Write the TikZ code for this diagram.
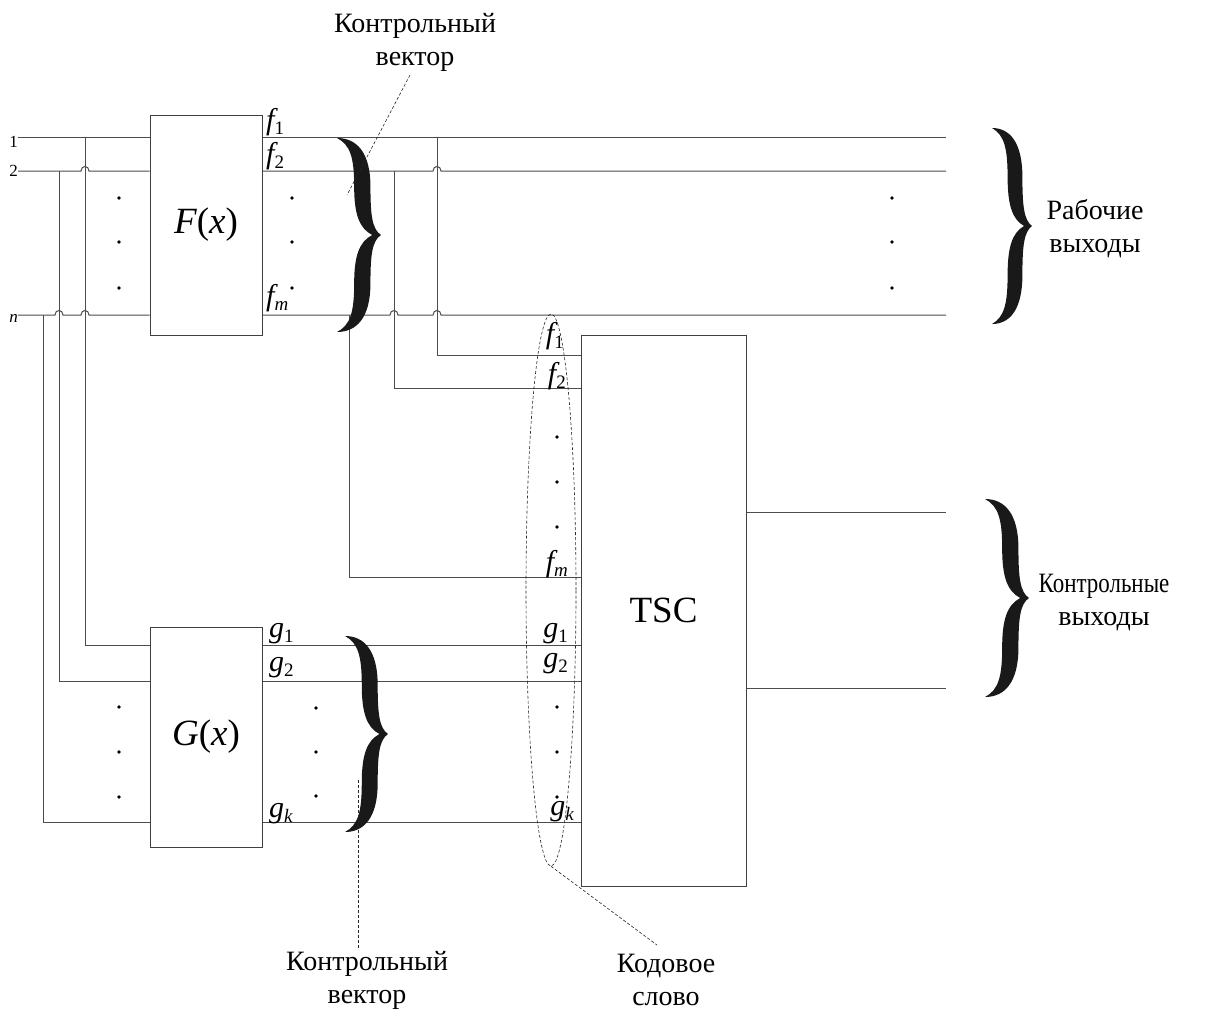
\documentclass[tikz,border=0pt]{standalone}
\usepackage{fontspec}
\setmainfont{Liberation Serif}
\usetikzlibrary{shapes.geometric}
\newcommand{\sbs}[1]{\raisebox{-5pt}{\fontsize{19}{19}\selectfont\upshape #1}}
\tikzset{
  mybrace/.pic={
    \fill[black!90] (0,-1) .. controls (0.45,-1.0) and (0.76,-0.85) .. (0.76,-0.5)
      .. controls (0.76,-0.2) and (0.8,-0.06) .. (1,0)
      .. controls (0.8,0.06) and (0.76,0.2) .. (0.76,0.5)
      .. controls (0.76,0.85) and (0.45,1.0) .. (0,1)
      .. controls (0.3,0.93) and (0.39,0.8) .. (0.39,0.5)
      .. controls (0.39,0.22) and (0.5,0.07) .. (0.8,0)
      .. controls (0.5,-0.07) and (0.39,-0.22) .. (0.39,-0.5)
      .. controls (0.39,-0.8) and (0.3,-0.93) .. (0,-1) -- cycle;
  }
}
\begin{document}
\begin{tikzpicture}[x=1pt,y=-1pt,
  wire/.style={draw=black!70, line width=1pt},
  box/.style={draw=black!75, line width=1pt, inner sep=0pt},
  leader/.style={draw=black!85, line width=0.6pt, dash pattern=on 3pt off 2pt},
  lbl/.style={font=\fontsize{28}{33}\selectfont, align=center, inner sep=0pt},
  sig/.style={font=\fontsize{30}{30}\selectfont, inner sep=0pt},
  inlbl/.style={font=\fontsize{17}{17}\selectfont, inner sep=0pt, anchor=east}]
\useasboundingbox (0,0) rectangle (1206,1012);

% boxes
\node[box, minimum width=112pt, minimum height=220pt, font=\fontsize{37}{37}\selectfont] (F) at (206,225) {\itshape F\/\upshape(\itshape x\/\upshape)};
\node[box, minimum width=112pt, minimum height=220pt, font=\fontsize{37}{37}\selectfont] (G) at (206,737) {\itshape G\/\upshape(\itshape x\/\upshape)};
\node[box, minimum width=165pt, minimum height=551pt, font=\fontsize{37}{37}\selectfont] (T) at (663.5,610.5) {TSC};

% level coordinates
\coordinate (lf1) at (0,137); \coordinate (lf2) at (0,171); \coordinate (lfm) at (0,315);
\coordinate (lg1) at (0,645); \coordinate (lg2) at (0,681); \coordinate (lgk) at (0,822);
\coordinate (lt1) at (0,355); \coordinate (lt2) at (0,388); \coordinate (ltm) at (0,577);
\coordinate (lo1) at (0,512); \coordinate (lo2) at (0,688);
% input starts
\coordinate (i1) at (18,137); \coordinate (i2) at (18,171); \coordinate (in) at (18,315);
\coordinate (j1) at (85,137); \coordinate (j2) at (59,171); \coordinate (jn) at (43,315);
\coordinate (k1) at (437,137); \coordinate (k2) at (394,171); \coordinate (km) at (349,315);
\coordinate (r1) at (946,137); \coordinate (r2) at (946,171); \coordinate (rm) at (946,315);
\coordinate (ro1) at (946,512); \coordinate (ro2) at (946,688);

% input labels
\node[inlbl] (n1) at (18,142) {1};
\node[inlbl] (n2) at (18,171) {2};
\node[inlbl] (nn) at (18,318) {\itshape n};

% input wires with hops
\draw[wire] (i1) -- (F.west |- i1);
\draw[wire] (i2) -- (81,171) .. controls (81,165) and (89,165) .. (89,171) -- (F.west |- i2);
\draw[wire] (in) -- (55,315) .. controls (55,309) and (63,309) .. (63,315) -- (81,315) .. controls (81,309) and (89,309) .. (89,315) -- (F.west |- in);

% verticals to G
\draw[wire] (j1) |- (G.west |- lg1);
\draw[wire] (j2) |- (G.west |- lg2);
\draw[wire] (jn) |- (G.west |- lgk);

% F outputs
\draw[wire] (F.east |- lf1) -- (r1);
\draw[wire] (F.east |- lf2) -- (433,171) .. controls (433,165) and (441,165) .. (441,171) -- (r2);
\draw[wire] (F.east |- lfm) -- (390,315) .. controls (390,309) and (398,309) .. (398,315) -- (433,315) .. controls (433,309) and (441,309) .. (441,315) -- (rm);

% verticals to TSC
\draw[wire] (k1) |- (T.west |- lt1);
\draw[wire] (k2) |- (T.west |- lt2);
\draw[wire] (km) |- (T.west |- ltm);

% G outputs
\draw[wire] (G.east |- lg1) -- (T.west |- lg1);
\draw[wire] (G.east |- lg2) -- (T.west |- lg2);
\draw[wire] (G.east |- lgk) -- (T.west |- lgk);

% TSC outputs
\draw[wire] (T.east |- lo1) -- (ro1);
\draw[wire] (T.east |- lo2) -- (ro2);

% dots
\foreach \x/\y in {119/198,119/242,119/288,292/198,292/242,292/288,892/198,892/242,892/288,
  119/707,119/752,119/797,316/708,316/752,316/796,
  557/437,557/482,557/527,557/707,557/752,557/797}
  \fill[black] (\x,\y) circle (1.8pt);

% signal labels
\node[sig, anchor=base west] (lf1t) at (266,129) {\itshape f\sbs{1}};
\node[sig, anchor=base west] (lf2t) at (266,163) {\itshape f\sbs{2}};
\node[sig, anchor=base west] (lfmt) at (266,305) {\itshape f\sbs{\itshape m}};
\node[sig, anchor=base west] (lg1t) at (269,637) {\itshape g\sbs{1}};
\node[sig, anchor=base west] (lg2t) at (269,671) {\itshape g\sbs{2}};
\node[sig, anchor=base west] (lgkt) at (269,817) {\itshape g\sbs{\itshape k}};

\node[sig, anchor=base east] (tf1) at (564,343) {\itshape f\sbs{1}};
\node[sig, anchor=base east] (tf2) at (566,383) {\itshape f\sbs{2}};
\node[sig, anchor=base east] (tfm) at (568,571) {\itshape f\sbs{\itshape m}};
\node[sig, anchor=base east] (tg1) at (568,637) {\itshape g\sbs{1}};
\node[sig, anchor=base east] (tg2) at (568,667) {\itshape g\sbs{2}};
\node[sig, anchor=base east] (tgk) at (574,815) {\itshape g\sbs{\itshape k}};

% braces
\pic[xscale=44, yscale=97] at (337,235) {mybrace};
\pic[xscale=43, yscale=98] at (345,734) {mybrace};
\pic[xscale=40, yscale=98] at (992,226) {mybrace};
\pic[xscale=44, yscale=99] at (985,598) {mybrace};

% code word ellipse
\node[draw=black!85, line width=0.6pt, dash pattern=on 3pt off 2pt, ellipse, minimum width=50pt, minimum height=552pt, inner sep=0pt] (cw) at (551,590) {};

% text labels
\node[lbl] (cv1) at (415,42) {Контрольный\\вектор};
\node[lbl] (cv2) at (367,980) {Контрольный\\вектор};
\node[lbl] (kod) at (666,980) {Кодовое\\слово};
\node[lbl] (work) at (1095,229) {Рабочие\\выходы};
\node[lbl] (ctrl) at (1104,603) {\scalebox{0.82}[1]{Контрольные}\\выходы};

% leaders
\coordinate (a1) at (410,75); \coordinate (a2) at (347,195);
\coordinate (b1) at (358,780); \coordinate (b2) at (358,950);
\coordinate (c2) at (657,945);
\draw[leader] (a1) -- (a2);
\draw[leader] (b1) -- (b2);
\draw[leader] (cw.south) -- (c2);
\end{tikzpicture}
\end{document}
